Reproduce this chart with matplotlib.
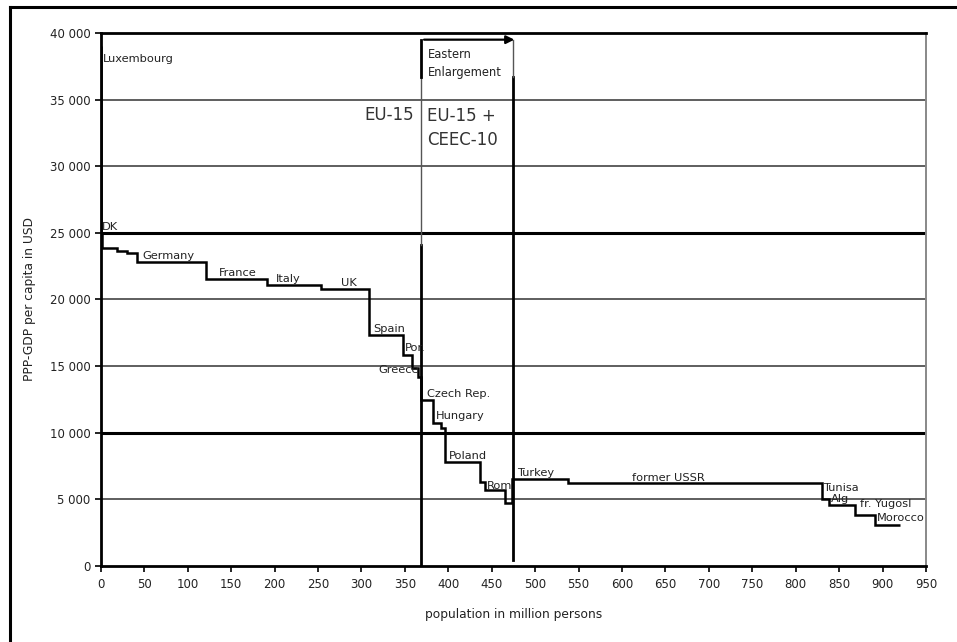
import numpy as np
import matplotlib.pyplot as plt
from matplotlib.lines import Line2D
from matplotlib.ticker import FuncFormatter

# cumulative population (million persons) at the step edges
pop_edges = [0, 0.4, 1.5, 18, 30, 41, 121, 191, 253, 309, 348, 358, 365, 369,
             382, 392, 396, 436, 442, 465, 473, 538, 830, 838, 868, 891, 920]
# PPP-GDP per capita (USD) of each step
gdp_pc = [39000, 25000, 23890, 23660, 23470, 22840, 21540, 21090, 20790, 17340,
          15840, 14860, 14210, 12460, 10750, 10360, 7830, 6330, 5700, 4730,
          6530, 6210, 5010, 4580, 3830, 3080]

# country labels
countries = ["Luxembourg", "DK", "Germany", "France", "Italy", "UK", "Spain",
             "Por.", "Greece", "Czech Rep.", "Hungary", "Poland", "Rom",
             "Turkey", "former USSR", "Tunisa", "Alg", "fr. Yugosl", "Morocco"]
label_x = [2, 1, 48, 136, 201, 276, 313, 350, 319, 375, 386, 401, 444,
           479, 611, 831, 841, 874, 894]
label_y = [37700, 25050, 22900, 21600, 21150, 20850, 17400, 15950, 14350,
           12550, 10850, 7900, 5650, 6600, 6250, 5500, 4650, 4300, 3200]

eu15_pop = 369
eu25_pop = 475

fig = plt.figure(figsize=(9.57, 6.42), dpi=100)
ax = fig.add_axes([0.1055, 0.1184, 0.8621, 0.8302])

# horizontal grid, 10000 and 25000 drawn heavier
for yv in range(5000, 40000, 5000):
    if yv in (10000, 25000):
        ax.axhline(yv, color="black", lw=2.2, zorder=1)
    else:
        ax.axhline(yv, color="#333333", lw=1.1, zorder=1)

ax.stairs(gdp_pc, pop_edges, baseline=None, color="black", lw=1.8, zorder=3)

# EU-15 / EU-25 borders
ax.plot([eu15_pop, eu15_pop], [0, 24100], color="black", lw=2.0, zorder=4)
ax.plot([eu15_pop, eu15_pop], [24100, 36700], color="#555555", lw=1.0, zorder=4)
ax.plot([eu15_pop, eu15_pop], [36700, 39500], color="black", lw=2.0, zorder=4)
ax.plot([eu25_pop, eu25_pop], [450, 36700], color="black", lw=2.0, zorder=4)
ax.plot([eu25_pop, eu25_pop], [36700, 39500], color="#555555", lw=1.0, zorder=4)
ax.annotate("", xy=(eu25_pop + 1, 39500), xytext=(eu15_pop + 3, 39500),
            arrowprops=dict(arrowstyle="-|>", color="black", lw=1.6,
                            mutation_scale=12, shrinkA=0, shrinkB=0), zorder=5)

ax.text(eu15_pop + 8, 38850, "Eastern\nEnlargement", fontsize=8.3,
        color="#222222", va="top", ha="left", linespacing=1.45)
ax.text(eu15_pop - 8, 33850, "EU-15", fontsize=12, color="#333333",
        va="center", ha="right")
ax.text(eu15_pop + 6, 32850, "EU-15 +\nCEEC-10", fontsize=12, color="#333333",
        va="center", ha="left", linespacing=1.4)

for name, xv, yv in zip(countries, label_x, label_y):
    ax.text(xv, yv, name, fontsize=8.2, color="#222222", va="bottom",
            ha="left", clip_on=True, zorder=6)

ax.set_xlim(0, 950)
ax.set_ylim(0, 40000)
ax.set_xticks(np.arange(0, 951, 50))
ax.set_yticks(np.arange(0, 40001, 5000))
ax.yaxis.set_major_formatter(FuncFormatter(lambda v, p: f"{int(v):,}".replace(",", " ")))
ax.tick_params(axis="both", direction="out", length=4, width=1.2,
               labelsize=8.5, colors="black", labelcolor="#222222")
ax.tick_params(axis="x", pad=5)

for side in ("left", "bottom", "top"):
    ax.spines[side].set_linewidth(2.0)
    ax.spines[side].set_color("black")
ax.spines["right"].set_color("#888888")
ax.spines["right"].set_linewidth(1.4)

ax.set_xlabel("population in million persons", fontsize=8.8, color="#222222", labelpad=12)
ax.set_ylabel("PPP-GDP per capita in USD", fontsize=8.8, color="#222222", labelpad=10)

# outer frame (top and left edges)
fig.add_artist(Line2D([10 / 957, 1.0], [1 - 6.5 / 642, 1 - 6.5 / 642],
                      color="black", lw=2.2, transform=fig.transFigure))
fig.add_artist(Line2D([10 / 957, 10 / 957], [0, 1 - 6.5 / 642],
                      color="black", lw=2.2, transform=fig.transFigure))

fig.savefig("out.png", dpi=100)
